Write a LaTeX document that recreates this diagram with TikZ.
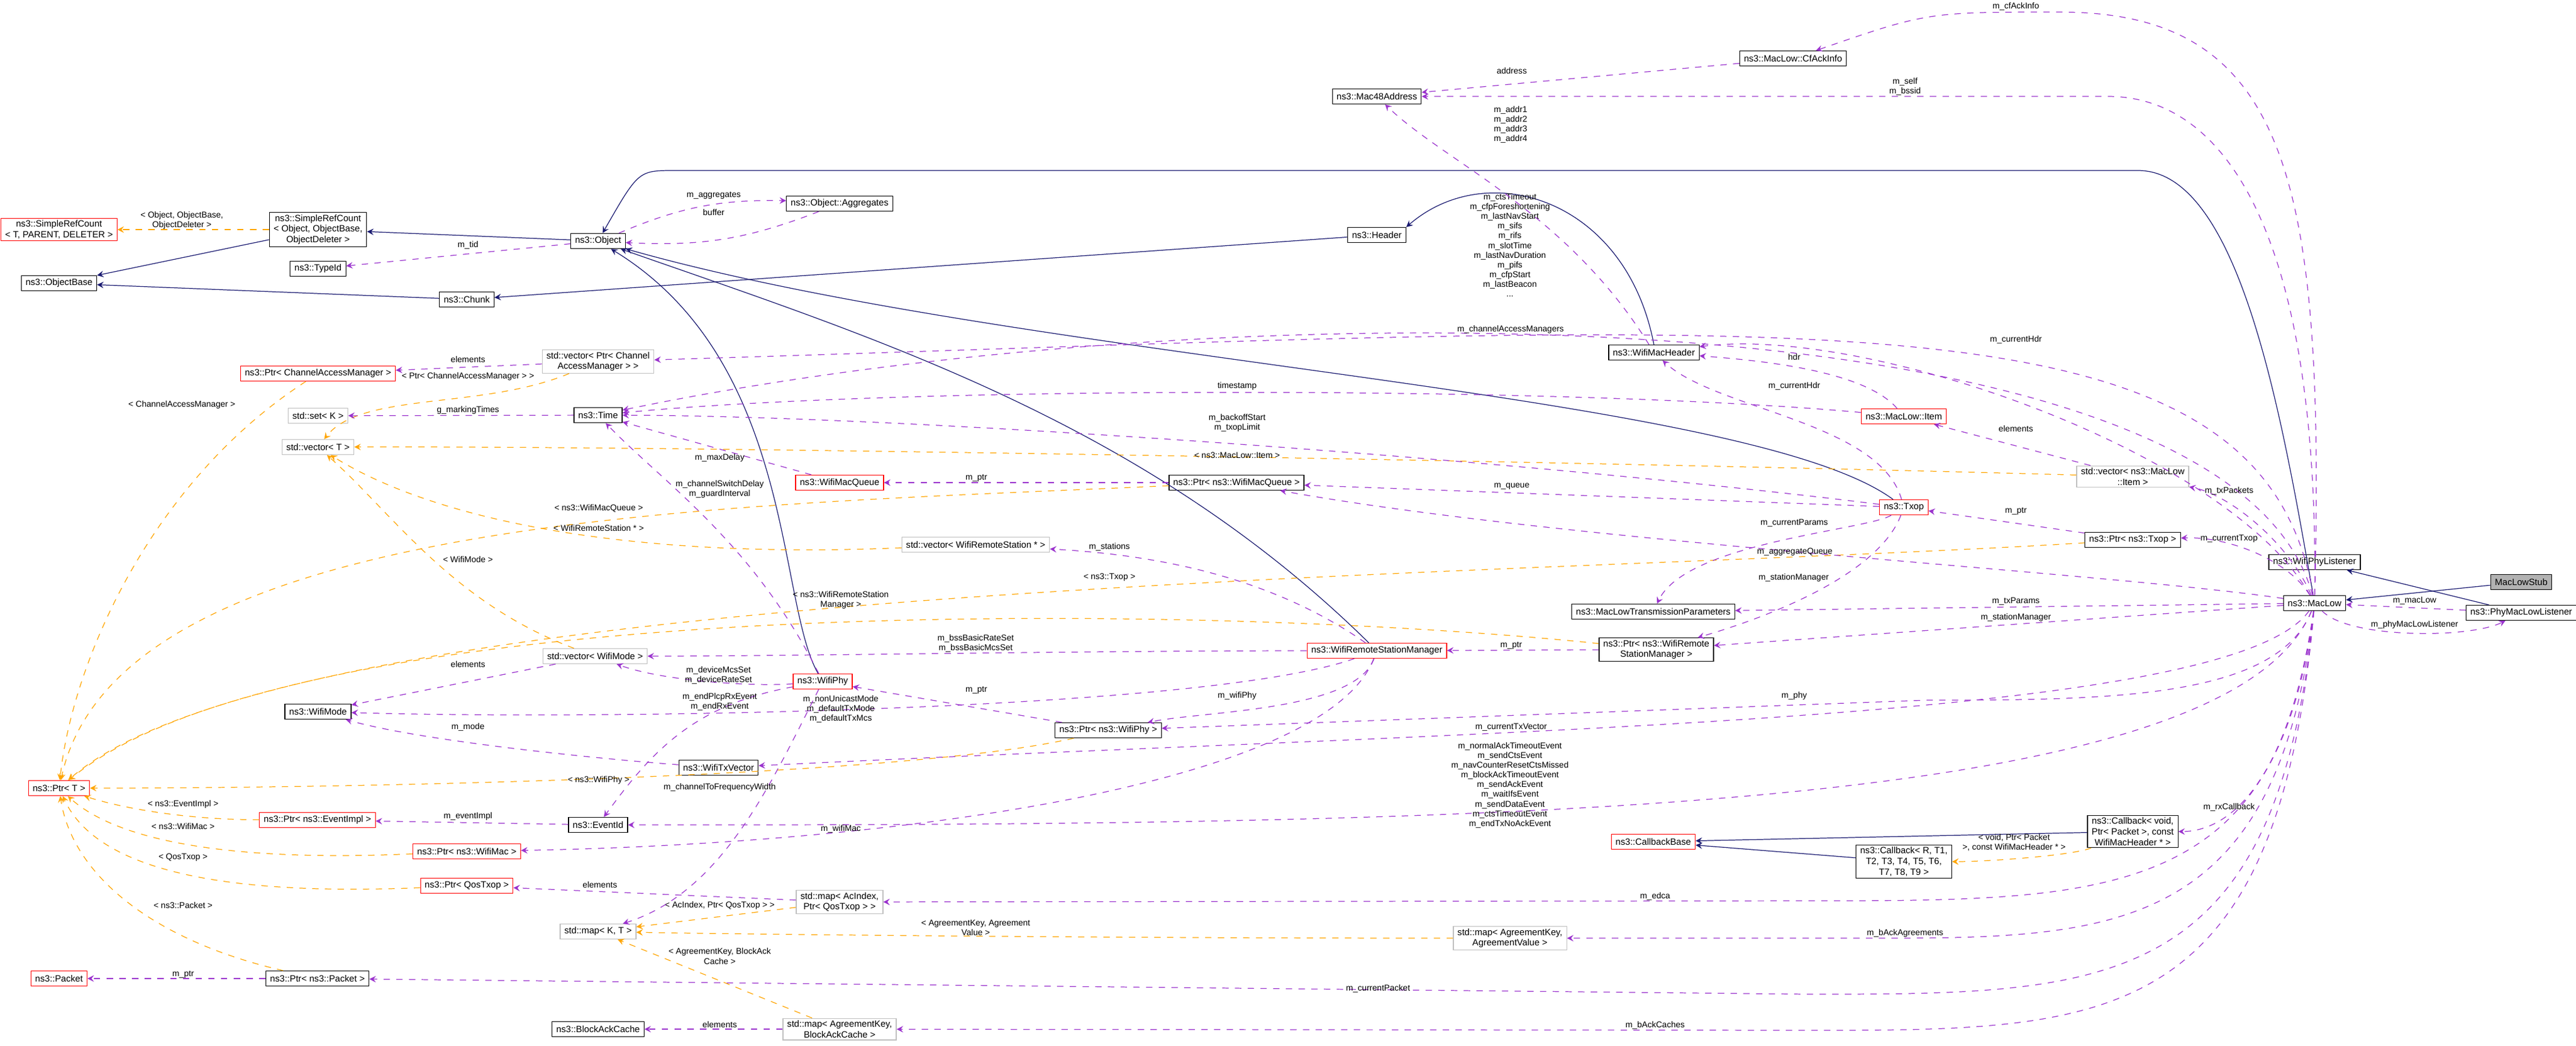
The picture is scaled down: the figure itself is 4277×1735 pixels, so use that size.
\documentclass[tikz,border=0pt]{standalone}
\usepackage{fontspec}
\setmainfont{Liberation Sans}
\definecolor{navy}{RGB}{25,25,112}
\definecolor{usecol}{RGB}{154,50,205}
\definecolor{tmplcol}{RGB}{255,165,0}
\tikzset{
  cls/.style={draw=black,fill=white,font=\fontsize{4.3}{5}\selectfont,inner xsep=2pt,inner ysep=1pt,minimum height=0.25cm,align=center},
  redcls/.style={cls,draw=red},
  graycls/.style={cls,draw=gray!50},
  stubcls/.style={cls,fill=gray!60},
  inh/.style={draw=navy,-stealth},
  use/.style={draw=usecol,dashed,-stealth},
  tmpl/.style={draw=tmplcol,dashed,-stealth},
  lbl/.style={font=\fontsize{4}{4.6}\selectfont,align=center,inner sep=0pt}
}
\begin{document}
\begin{tikzpicture}[x=0.01cm,y=-0.01cm,line width=0.35pt]
  \useasboundingbox (0,0) rectangle (4277,1735);
  % classes, left column
  \node[redcls] (srct) at (98,381) {ns3::SimpleRefCount\\< T, PARENT, DELETER >};
  \node[cls] (objbase) at (98,470) {ns3::ObjectBase};
  \node[redcls] (ptrt) at (98,1308) {ns3::Ptr< T >};
  \node[redcls] (packet) at (98,1624) {ns3::Packet};
  % second column
  \node[cls] (srcobj) at (528,381) {ns3::SimpleRefCount\\< Object, ObjectBase,\\ObjectDeleter >};
  \node[cls] (typeid) at (528,446) {ns3::TypeId};
  \node[redcls] (ptrcam) at (528,620) {ns3::Ptr< ChannelAccessManager >};
  \node[graycls] (setk) at (528,690) {std::set< K >};
  \node[graycls] (vect) at (528,742) {std::vector< T >};
  \node[cls] (wifimode) at (528,1181) {ns3::WifiMode};
  \node[redcls] (ptrevimpl) at (527,1361) {ns3::Ptr< ns3::EventImpl >};
  \node[cls] (ptrpacket) at (527,1624) {ns3::Ptr< ns3::Packet >};
  % third column
  \node[cls] (chunk) at (775,497) {ns3::Chunk};
  \node[redcls] (ptrwifimac) at (775,1413) {ns3::Ptr< ns3::WifiMac >};
  \node[redcls] (ptrqostxop) at (775,1470) {ns3::Ptr< QosTxop >};
  % fourth column
  \node[cls] (obj) at (993,400) {ns3::Object};
  \node[graycls] (vecptrcam) at (993,600) {std::vector< Ptr< Channel\\AccessManager > >};
  \node[cls] (time) at (993,689) {ns3::Time};
  \node[graycls] (vecwifimode) at (988,1089) {std::vector< WifiMode >};
  \node[cls] (eventid) at (993,1369) {ns3::EventId};
  \node[graycls] (mapkt) at (993,1546) {std::map< K, T >};
  \node[cls] (bac) at (993,1708) {ns3::BlockAckCache};
  % fifth column
  \node[cls] (aggr) at (1394,338) {ns3::Object::Aggregates};
  \node[redcls] (wifimacqueue) at (1394,801) {ns3::WifiMacQueue};
  \node[redcls] (wifiphy) at (1366,1131) {ns3::WifiPhy};
  \node[cls] (txvector) at (1193,1274) {ns3::WifiTxVector};
  \node[graycls] (mapac) at (1394,1497) {std::map< AcIndex,\\Ptr< QosTxop > >};
  \node[graycls] (mapbac) at (1394,1708) {std::map< AgreementKey,\\BlockAckCache >};
  % sixth column
  \node[graycls] (vecwrs) at (1620,904) {std::vector< WifiRemoteStation * >};
  \node[cls] (ptrwifiphy) at (1840,1212) {ns3::Ptr< ns3::WifiPhy >};
  \node[cls] (ptrwmq) at (2053,801) {ns3::Ptr< ns3::WifiMacQueue >};
  % seventh column
  \node[cls] (mac48) at (2286,160) {ns3::Mac48Address};
  \node[cls] (header) at (2286,390) {ns3::Header};
  \node[redcls] (wrsm) at (2286,1080) {ns3::WifiRemoteStationManager};
  \node[graycls] (mapav) at (2507,1557) {std::map< AgreementKey,\\AgreementValue >};
  % eighth column
  \node[cls] (wmh) at (2746,585) {ns3::WifiMacHeader};
  \node[cls] (mltp) at (2745,1015) {ns3::MacLowTransmissionParameters};
  \node[cls] (ptrwrsm) at (2750,1078) {ns3::Ptr< ns3::WifiRemote\\StationManager >};
  \node[redcls] (cbbase) at (2745,1397) {ns3::CallbackBase};
  \node[cls] (cfack) at (2977,97) {ns3::MacLow::CfAckInfo};
  \node[redcls] (item) at (3161,691) {ns3::MacLow::Item};
  \node[redcls] (txop) at (3161,842) {ns3::Txop};
  \node[cls] (cbr) at (3161,1430) {ns3::Callback< R, T1,\\T2, T3, T4, T5, T6,\\T7, T8, T9 >};
  \node[graycls] (vecitem) at (3541,791) {std::vector< ns3::MacLow\\::Item >};
  \node[cls] (ptrtxop) at (3541,896) {ns3::Ptr< ns3::Txop >};
  \node[cls] (cbvoid) at (3541,1380) {ns3::Callback< void,\\Ptr< Packet >, const\\WifiMacHeader * >};
  % right end
  \node[cls] (phylst) at (3843,933) {ns3::WifiPhyListener};
  \node[cls] (ml) at (3843,1001) {ns3::MacLow};
  \node[stubcls] (stub) at (4186,966) {MacLowStub};
  \node[cls] (pmll) at (4186,1017) {ns3::PhyMacLowListener};
  % inheritance
  \draw[inh] (srcobj) -- (objbase);
  \draw[inh] (obj) -- (srcobj);
  \draw[inh] (chunk) -- (objbase);
  \draw[inh] (header) -- (chunk);
  \draw[inh] (wmh.north) .. controls (2700,330) and (2470,260) .. (header.north east);
  \draw[inh] (ml) .. controls (3790,700) and (3720,283) .. (3550,283) -- (1120,283) .. controls (1060,283) .. (obj);
  \draw[inh] (wifiphy) .. controls (1290,1000) and (1320,600) .. (obj);
  \draw[inh] (wrsm) .. controls (1900,700) and (1450,560) .. (obj);
  \draw[inh] (txop) .. controls (2900,650) and (1700,600) .. (obj);
  \draw[inh] (stub) -- (ml);
  \draw[inh] (pmll) -- (phylst);
  \draw[inh] (cbvoid) -- (cbbase);
  \draw[inh] (cbr) -- (cbbase);
  % templates
  \draw[tmpl] (srcobj) -- (srct);
  \node[lbl] at (302,366) {< Object, ObjectBase,\\ObjectDeleter >};
  \draw[tmpl] (ptrcam) .. controls (250,800) and (120,1100) .. (ptrt);
  \node[lbl] at (302,672) {< ChannelAccessManager >};
  \draw[tmpl] (vecptrcam) .. controls (800,680) and (600,650) .. (vect);
  \node[lbl] at (777,625) {< Ptr< ChannelAccessManager > >};
  \draw[tmpl] (ptrwmq) .. controls (1200,840) and (200,850) .. (ptrt);
  \node[lbl] at (994,844) {< ns3::WifiMacQueue >};
  \draw[tmpl] (vecwrs) .. controls (1000,930) and (700,850) .. (vect);
  \node[lbl] at (994,876) {< WifiRemoteStation * >};
  \draw[tmpl] (vecwifimode) .. controls (750,1000) and (650,850) .. (vect);
  \node[lbl] at (777,928) {< WifiMode >};
  \draw[tmpl] (ptrtxop) .. controls (2500,960) and (500,960) .. (ptrt);
  \node[lbl] at (1842,958) {< ns3::Txop >};
  \draw[tmpl] (ptrwrsm) .. controls (2000,1000) and (500,980) .. (ptrt);
  \node[lbl] at (1396,996) {< ns3::WifiRemoteStation\\Manager >};
  \draw[tmpl] (ptrwifiphy) .. controls (1500,1290) and (600,1308) .. (ptrt);
  \node[lbl] at (994,1295) {< ns3::WifiPhy >};
  \draw[tmpl] (ptrevimpl) .. controls (300,1360) and (200,1340) .. (ptrt);
  \node[lbl] at (304,1335) {< ns3::EventImpl >};
  \draw[tmpl] (ptrwifimac) .. controls (400,1430) and (200,1400) .. (ptrt);
  \node[lbl] at (304,1371) {< ns3::WifiMac >};
  \draw[tmpl] (ptrqostxop) .. controls (300,1490) and (150,1420) .. (ptrt);
  \node[lbl] at (304,1423) {< QosTxop >};
  \draw[tmpl] (ptrpacket) .. controls (250,1560) and (120,1450) .. (ptrt);
  \node[lbl] at (304,1502) {< ns3::Packet >};
  \draw[tmpl] (vecitem) .. controls (2800,770) and (1200,740) .. (vect);
  \node[lbl] at (2054,756) {< ns3::MacLow::Item >};
  \draw[tmpl] (mapac) -- (mapkt);
  \node[lbl] at (1195,1503) {< AcIndex, Ptr< QosTxop > >};
  \draw[tmpl] (mapav) .. controls (1800,1557) and (1200,1550) .. (mapkt);
  \node[lbl] at (1620,1540) {< AgreementKey, Agreement\\Value >};
  \draw[tmpl] (mapbac) -- (mapkt);
  \node[lbl] at (1195,1587) {< AgreementKey, BlockAck\\Cache >};
  \draw[tmpl] (cbvoid) .. controls (3440,1420) and (3300,1430) .. (cbr);
  \node[lbl] at (3344,1398) {< void, Ptr< Packet\\>, const WifiMacHeader * >};
  % members
  \draw[use] (obj) to[bend left=12] (aggr);
  \node[lbl] at (1185,324) {m\_aggregates};
  \draw[use] (aggr) to[bend left=12] (obj);
  \node[lbl] at (1185,352) {buffer};
  \draw[use] (obj) -- (typeid);
  \node[lbl] at (777,407) {m\_tid};
  \draw[use] (vecptrcam) -- (ptrcam);
  \node[lbl] at (777,596) {elements};
  \draw[use] (time) -- (setk);
  \node[lbl] at (777,681) {g\_markingTimes};
  \draw[use] (wifimacqueue) -- (time);
  \node[lbl] at (1195,760) {m\_maxDelay};
  \draw[use] (wifiphy) .. controls (1250,900) and (1100,800) .. (time);
  \node[lbl] at (1195,812) {m\_channelSwitchDelay\\m\_guardInterval};
  \draw[use] (ml) .. controls (3700,470) and (2000,480) .. (time);
  \node[lbl] at (2507,407) {m\_ctsTimeout\\m\_cfpForeshortening\\m\_lastNavStart\\m\_sifs\\m\_rifs\\m\_slotTime\\m\_lastNavDuration\\m\_pifs\\m\_cfpStart\\m\_lastBeacon\\...};
  \draw[use] (item) .. controls (2600,640) and (1500,640) .. (time);
  \node[lbl] at (2054,641) {timestamp};
  \draw[use] (txop) .. controls (2500,760) and (1500,690) .. (time);
  \node[lbl] at (2054,702) {m\_backoffStart\\m\_txopLimit};
  \draw[use] (ptrwmq) -- (wifimacqueue);
  \node[lbl] at (1621,793) {m\_ptr};
  \draw[use] (txop) -- (ptrwmq);
  \node[lbl] at (2510,807) {m\_queue};
  \draw[use] (ml) .. controls (3500,950) and (2600,900) .. (ptrwmq);
  \node[lbl] at (2980,916) {m\_aggregateQueue};
  \draw[use] (wrsm) .. controls (2100,950) and (1900,920) .. (vecwrs);
  \node[lbl] at (1842,908) {m\_stations};
  \draw[use] (wrsm) .. controls (1800,1080) and (1300,1089) .. (vecwifimode);
  \node[lbl] at (1620,1068) {m\_bssBasicRateSet\\m\_bssBasicMcsSet};
  \draw[use] (wifiphy) .. controls (1250,1140) and (1100,1130) .. (vecwifimode);
  \node[lbl] at (1193,1121) {m\_deviceMcsSet\\m\_deviceRateSet};
  \draw[use] (vecwifimode) -- (wifimode);
  \node[lbl] at (777,1102) {elements};
  \draw[use] (wrsm) .. controls (2000,1180) and (1000,1195) .. (wifimode);
  \node[lbl] at (1396,1177) {m\_nonUnicastMode\\m\_defaultTxMode\\m\_defaultTxMcs};
  \draw[use] (txvector) .. controls (1000,1260) and (700,1230) .. (wifimode);
  \node[lbl] at (777,1207) {m\_mode};
  \draw[use] (ml) .. controls (3700,1200) and (2500,1210) .. (txvector);
  \node[lbl] at (2509,1207) {m\_currentTxVector};
  \draw[use] (wifiphy) .. controls (1150,1170) and (1080,1250) .. (eventid);
  \node[lbl] at (1195,1165) {m\_endPlcpRxEvent\\m\_endRxEvent};
  \draw[use] (eventid) -- (ptrevimpl);
  \node[lbl] at (777,1355) {m\_eventImpl};
  \draw[use] (ml) .. controls (3700,1350) and (2500,1370) .. (eventid);
  \node[lbl] at (2507,1303) {m\_normalAckTimeoutEvent\\m\_sendCtsEvent\\m\_navCounterResetCtsMissed\\m\_blockAckTimeoutEvent\\m\_sendAckEvent\\m\_waitIfsEvent\\m\_sendDataEvent\\m\_ctsTimeoutEvent\\m\_endTxNoAckEvent};
  \draw[use] (wifiphy) .. controls (1280,1300) and (1200,1480) .. (mapkt);
  \node[lbl] at (1195,1307) {m\_channelToFrequencyWidth};
  \draw[use] (wrsm) .. controls (2200,1300) and (1500,1400) .. (ptrwifimac);
  \node[lbl] at (1396,1376) {m\_wifiMac};
  \draw[use] (wrsm) .. controls (2250,1180) and (2000,1180) .. (ptrwifiphy);
  \node[lbl] at (2054,1155) {m\_wifiPhy};
  \draw[use] (ptrwifiphy) -- (wifiphy);
  \node[lbl] at (1621,1145) {m\_ptr};
  \draw[use] (ml) .. controls (3780,1160) and (3500,1162) .. (3200,1162) -- (ptrwifiphy);
  \node[lbl] at (2979,1155) {m\_phy};
  \draw[use] (mapac) -- (ptrqostxop);
  \node[lbl] at (996,1468) {elements};
  \draw[use] (ml) .. controls (3780,1495) and (3500,1495) .. (3000,1495) -- (mapac);
  \node[lbl] at (2748,1488) {m\_edca};
  \draw[use] (ml) .. controls (3780,1557) and (3500,1557) .. (3100,1557) -- (mapav);
  \node[lbl] at (3163,1549) {m\_bAckAgreements};
  \draw[use] (ptrpacket) -- (packet);
  \node[lbl] at (304,1617) {m\_ptr};
  \draw[use] (ml) .. controls (3780,1650) and (3500,1650) .. (3000,1650) -- (ptrpacket);
  \node[lbl] at (2288,1641) {m\_currentPacket};
  \draw[use] (mapbac) -- (bac);
  \node[lbl] at (1195,1700) {elements};
  \draw[use] (ml) .. controls (3780,1710) and (3500,1710) .. (3000,1710) -- (mapbac);
  \node[lbl] at (2748,1702) {m\_bAckCaches};
  \draw[use] (ml) .. controls (3750,460) and (3000,540) .. (vecptrcam);
  \node[lbl] at (2508,547) {m\_channelAccessManagers};
  \draw[use] (cfack) -- (mac48);
  \node[lbl] at (2510,117) {address};
  \draw[use] (ml) .. controls (3860,300) and (3800,20) .. (3420,20) .. controls (3200,20) .. (cfack);
  \node[lbl] at (3347,11) {m\_cfAckInfo};
  \draw[use] (ml) .. controls (3850,400) and (3700,160) .. (3500,160) -- (mac48);
  \node[lbl] at (3163,144) {m\_self\\m\_bssid};
  \draw[use] (wmh) .. controls (2600,350) and (2400,270) .. (mac48);
  \node[lbl] at (2508,207) {m\_addr1\\m\_addr2\\m\_addr3\\m\_addr4};
  \draw[use] (ml) .. controls (3700,750) and (3100,540) .. (wmh);
  \node[lbl] at (3347,564) {m\_currentHdr};
  \draw[use] (item) .. controls (3100,620) and (2950,600) .. (wmh);
  \node[lbl] at (2979,592) {hdr};
  \draw[use] (txop) .. controls (3120,700) and (2850,680) .. (wmh);
  \node[lbl] at (2979,641) {m\_currentHdr};
  \draw[use] (vecitem) -- (item);
  \node[lbl] at (3347,711) {elements};
  \draw[use] (ml) .. controls (3800,900) and (3700,820) .. (vecitem);
  \node[lbl] at (3701,815) {m\_txPackets};
  \draw[use] (ptrtxop) -- (txop);
  \node[lbl] at (3347,848) {m\_ptr};
  \draw[use] (ml) .. controls (3800,930) and (3700,890) .. (ptrtxop);
  \node[lbl] at (3701,894) {m\_currentTxop};
  \draw[use] (txop) .. controls (3100,880) and (2800,900) .. (mltp);
  \node[lbl] at (2979,868) {m\_currentParams};
  \draw[use] (ml) -- (mltp);
  \node[lbl] at (3347,998) {m\_txParams};
  \draw[use] (txop) .. controls (3120,950) and (2950,1020) .. (ptrwrsm);
  \node[lbl] at (2978,959) {m\_stationManager};
  \draw[use] (ml) -- (ptrwrsm);
  \node[lbl] at (3347,1025) {m\_stationManager};
  \draw[use] (ptrwrsm) -- (wrsm);
  \node[lbl] at (2509,1071) {m\_ptr};
  \draw[use] (ml) .. controls (3800,1300) and (3700,1380) .. (cbvoid);
  \node[lbl] at (3701,1340) {m\_rxCallback};
  \draw[use] (pmll) -- (ml);
  \node[lbl] at (4009,997) {m\_macLow};
  \draw[use] (ml) .. controls (3900,1060) and (4100,1060) .. (pmll);
  \node[lbl] at (4009,1037) {m\_phyMacLowListener};
\end{tikzpicture}
\end{document}
